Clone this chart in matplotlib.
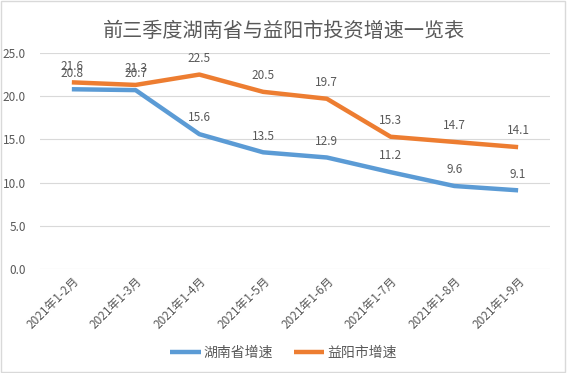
import matplotlib.pyplot as plt
from matplotlib.patches import Rectangle

plt.rcParams['font.family'] = ['Noto Sans CJK SC', 'DejaVu Sans']

# ── Data ─────────────────────────────────────────────
months = ["2021年1-2月", "2021年1-3月", "2021年1-4月", "2021年1-5月",
          "2021年1-6月", "2021年1-7月", "2021年1-8月", "2021年1-9月"]
hunan = [20.8, 20.7, 15.6, 13.5, 12.9, 11.2, 9.6, 9.1]
yiyang = [21.6, 21.3, 22.5, 20.5, 19.7, 15.3, 14.7, 14.1]

BLUE = "#5B9BD5"
ORANGE = "#ED7D31"
GRAY = "#595959"

# ── Figure ───────────────────────────────────────────
fig = plt.figure(figsize=(5.67, 3.73), dpi=100)
ax = fig.add_axes([0.0705, 0.279, 0.8995, 0.579])

x = list(range(len(months)))
ax.plot(x, hunan, color=BLUE, lw=3.2, label="湖南省增速", solid_capstyle="butt")
ax.plot(x, yiyang, color=ORANGE, lw=3.2, label="益阳市增速", solid_capstyle="butt")

for xi, v in zip(x, hunan):
    ax.annotate(f"{v:.1f}", (xi, v), xytext=(0, 7), textcoords="offset points",
                ha="center", va="bottom", fontsize=8.5, color=GRAY)
for xi, v in zip(x, yiyang):
    ax.annotate(f"{v:.1f}", (xi, v), xytext=(0, 7), textcoords="offset points",
                ha="center", va="bottom", fontsize=8.5, color=GRAY)

ax.set_xlim(-0.5, len(months) - 0.5)
ax.set_ylim(0, 25)
ax.set_yticks([0, 5, 10, 15, 20, 25])
ax.set_yticklabels([f"{t:.1f}" for t in [0, 5, 10, 15, 20, 25]])
ax.set_xticks(x)
ax.set_xticklabels(months, rotation=45, ha="right", rotation_mode="anchor")
ax.tick_params(axis="both", length=0, colors=GRAY, labelsize=8.5)
ax.tick_params(axis="y", pad=10)
ax.tick_params(axis="x", pad=4)
ax.grid(axis="y", color="#D9D9D9", lw=0.8)
ax.set_axisbelow(True)
for s in ax.spines.values():
    s.set_visible(False)

fig.text(0.5, 0.915, "前三季度湖南省与益阳市投资增速一览表", ha="center", va="center",
         fontsize=14.5, color=GRAY)

fig.legend(loc="center", bbox_to_anchor=(0.5, 0.055), ncol=2, frameon=False,
           fontsize=10, handlelength=2.2, columnspacing=1.5, handletextpad=0.2,
           labelcolor=GRAY)

fig.patches.append(Rectangle((0.002, 0.003), 0.995, 0.994, transform=fig.transFigure,
                             fill=False, edgecolor="#D9D9D9", lw=1))

fig.savefig("out.png", dpi=100)
